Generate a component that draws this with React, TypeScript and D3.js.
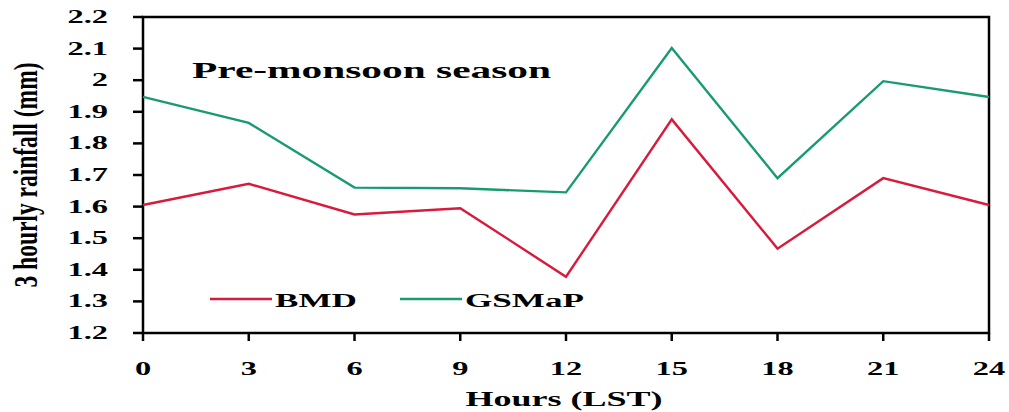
import React from 'react';
import * as d3 from 'd3';

const hours = [0, 3, 6, 9, 12, 15, 18, 21, 24];
const bmd = [1.605, 1.672, 1.575, 1.595, 1.378, 1.876, 1.467, 1.69, 1.605];
const gsmap = [1.947, 1.865, 1.66, 1.658, 1.645, 2.102, 1.69, 1.997, 1.947];
const yTicks = [1.2, 1.3, 1.4, 1.5, 1.6, 1.7, 1.8, 1.9, 2, 2.1, 2.2];
const seriesNames = ['BMD', 'GSMaP'];
const seriesColors = ['#d81b3c', '#1a9a72'];

const W = 1009;
const H = 412;
const margin = { top: 17, right: 20, bottom: 79, left: 143 };
const SX = 1.8; // glyphs in the original are stretched sideways

const App: React.FC = () => {
    const x = d3.scaleLinear().domain([0, 24]).range([margin.left, W - margin.right]);
    const y = d3.scaleLinear().domain([1.2, 2.2]).range([H - margin.bottom, margin.top]);

    const line = d3.line<number>()
        .x((_, i) => x(hours[i]))
        .y((d) => y(d));

    const font = '"Liberation Serif", "Times New Roman", serif';
    const bottom = H - margin.bottom;

    return (
        <svg width={W} height={H} style={{ display: 'block', position: 'absolute', left: 0, top: 0, background: '#fff' }}
            fontFamily={font} fontWeight="bold">
            {/* plot frame */}
            <rect x={margin.left} y={margin.top} width={W - margin.right - margin.left} height={bottom - margin.top}
                fill="none" stroke="#000" strokeWidth={2.5} />

            {/* y axis */}
            {yTicks.map((t) => (
                <g key={t}>
                    <line x1={margin.left - 10} x2={margin.left} y1={y(t)} y2={y(t)} stroke="#000" strokeWidth={2.5} />
                    <text transform={`translate(${margin.left - 35},${y(t) + 6}) scale(${SX},1)`} textAnchor="end" fontSize={18}>
                        {d3.format('~g')(t)}
                    </text>
                </g>
            ))}

            {/* x axis */}
            {hours.map((h) => (
                <g key={h}>
                    <line x1={x(h)} x2={x(h)} y1={bottom} y2={bottom + 8} stroke="#000" strokeWidth={2.5} />
                    <text transform={`translate(${x(h)},${bottom + 42}) scale(${SX},1)`} textAnchor="middle" fontSize={18}>
                        {h}
                    </text>
                </g>
            ))}

            <text transform={`translate(${(margin.left + W - margin.right) / 2 - 2},${H - 6}) scale(${SX},1)`}
                textAnchor="middle" fontSize={20}>Hours (LST)</text>
            <text transform={`translate(37,${(margin.top + bottom) / 2}) rotate(-90) scale(1,1.4)`}
                textAnchor="middle" fontSize={23.5}>3 hourly rainfall (mm)</text>

            <text transform={`translate(192,78) scale(${SX},1)`} fontSize={23}>Pre-monsoon season</text>

            {/* series */}
            {[bmd, gsmap].map((s, i) => (
                <path key={i} d={line(s) || ''} fill="none" stroke={seriesColors[i]} strokeWidth={2.4} />
            ))}

            {/* legend */}
            {seriesNames.map((n, i) => (
                <g key={n} transform={`translate(${210 + i * 190},299)`}>
                    <line x1={0} x2={62} y1={0} y2={0} stroke={seriesColors[i]} strokeWidth={2.4} />
                    <text transform={`translate(65,8) scale(${SX},1)`} fontSize={19.5}>{n}</text>
                </g>
            ))}
        </svg>
    );
};

export default App;
